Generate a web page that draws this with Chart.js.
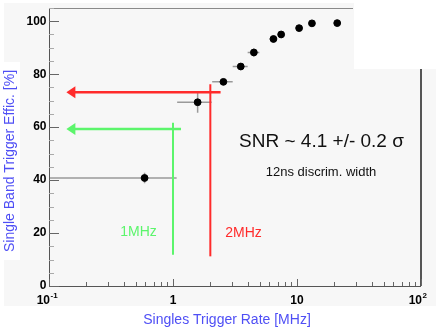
<!DOCTYPE html>
<html>
<head>
<meta charset="utf-8">
<script src="https://cdn.jsdelivr.net/npm/chart.js@4/dist/chart.umd.min.js"></script>
<style>
  body { margin: 0; background: #fff; }
  #wrap { width: 443px; height: 331px; }
</style>
</head>
<body>
<div id="wrap"><canvas id="effChart" width="443" height="331"></canvas></div>
<script>
// singles rate [MHz] and efficiency [%]
const rates = [0.59, 1.58, 2.55, 3.52, 4.49, 6.46, 7.45, 10.4, 13.2, 21.1];
const effic = [40.8, 69.4, 77.1, 82.9, 88.2, 93.3, 95.0, 97.4, 99.2, 99.3];
const rateLow = [0.1, 1.08, 2.07, 3.03, 4.0, 6.0, 7.0, 10.2, 13.0, 21.0];
const rateHigh = [1.07, 2.05, 3.03, 4.0, 4.97, 6.9, 7.95, 10.6, 13.4, 21.2];
const efficErr = [2, 4, 1, 1, 1.5, 1, 1, 0.5, 0.5, 0.3];

const yTicks = [0, 20, 40, 60, 80, 100];
const xDecades = [0.1, 1, 10, 100];

// annotation lines: [rate, efficiency] in data units
const redArrow = { from: 2.42, to: 0.138, y: 73.2 };
const redLine = { x: 2.0, y1: 11.2, y2: 76.2 };
const greenArrow = { from: 1.16, to: 0.138, y: 59.3 };
const greenLine = { x: 1.0, y1: 11.8, y2: 61.7 };

const RED = '#ff2b2b';
const GREEN = '#5cf56c';
const BLUE = '#4f4ff5';

const points = rates.map((r, i) => ({ x: r, y: effic[i] }));

function arrow(ctx, xs, ys, color, x1, x2, y) {
    const px1 = xs.getPixelForValue(x1);
    const px2 = xs.getPixelForValue(x2);
    const py = ys.getPixelForValue(y);
    ctx.strokeStyle = color;
    ctx.fillStyle = color;
    ctx.lineWidth = 2.5;
    ctx.beginPath();
    ctx.moveTo(px1, py);
    ctx.lineTo(px2 + 8, py);
    ctx.stroke();
    ctx.beginPath();
    ctx.moveTo(px2, py);
    ctx.lineTo(px2 + 9, py - 6);
    ctx.lineTo(px2 + 9, py + 6);
    ctx.closePath();
    ctx.fill();
}

function vline(ctx, xs, ys, color, l) {
    const px = xs.getPixelForValue(l.x);
    ctx.strokeStyle = color;
    ctx.lineWidth = 2;
    ctx.beginPath();
    ctx.moveTo(px, ys.getPixelForValue(l.y1));
    ctx.lineTo(px, ys.getPixelForValue(l.y2));
    ctx.stroke();
}

const framePlugin = {
    id: 'frame',
    beforeDraw(chart) {
        const ctx = chart.ctx;
        ctx.save();
        ctx.fillStyle = '#ffffff';
        ctx.fillRect(0, 0, 443, 331);
        ctx.fillStyle = '#f7f7f7';
        ctx.fillRect(4, 3, 432, 303);
        ctx.fillStyle = '#ffffff';
        ctx.fillRect(354, 0, 89, 69);
        ctx.fillRect(0, 62, 20, 198);
        ctx.restore();
    },
    beforeDatasetsDraw(chart) {
        const ctx = chart.ctx;
        const xs = chart.scales.x;
        const ys = chart.scales.y;
        const a = chart.chartArea;
        ctx.save();

        // error bars
        ctx.strokeStyle = '#9a9a9a';
        ctx.lineWidth = 1.5;
        rates.forEach((r, i) => {
            const px = xs.getPixelForValue(r);
            const py = ys.getPixelForValue(effic[i]);
            ctx.beginPath();
            ctx.moveTo(Math.max(a.left, xs.getPixelForValue(rateLow[i])), py);
            ctx.lineTo(xs.getPixelForValue(rateHigh[i]), py);
            ctx.moveTo(px, ys.getPixelForValue(effic[i] - efficErr[i]));
            ctx.lineTo(px, ys.getPixelForValue(effic[i] + efficErr[i]));
            ctx.stroke();
        });

        vline(ctx, xs, ys, GREEN, greenLine);
        vline(ctx, xs, ys, RED, redLine);
        arrow(ctx, xs, ys, GREEN, greenArrow.from, greenArrow.to, greenArrow.y);
        arrow(ctx, xs, ys, RED, redArrow.from, redArrow.to, redArrow.y);

        ctx.textAlign = 'center';
        ctx.textBaseline = 'middle';
        ctx.font = '14px "Liberation Sans", Arial, sans-serif';
        ctx.fillStyle = GREEN;
        ctx.fillText('1MHz', 138.5, 232);
        ctx.fillStyle = RED;
        ctx.fillText('2MHz', 243.5, 233);
        ctx.fillStyle = '#111';
        ctx.font = '19px "Liberation Sans", Arial, sans-serif';
        ctx.fillText('SNR ~ 4.1 +/- 0.2 \u03c3', 321.5, 142);
        ctx.font = '13px "Liberation Sans", Arial, sans-serif';
        ctx.fillText('12ns discrim. width', 321, 172);
        ctx.restore();
    },
    afterDraw(chart) {
        const ctx = chart.ctx;
        const xs = chart.scales.x;
        const ys = chart.scales.y;
        const a = chart.chartArea;
        ctx.save();

        // frame lines
        ctx.strokeStyle = '#8a8a8a';
        ctx.lineWidth = 1;
        ctx.beginPath();
        ctx.moveTo(a.left, a.top + 0.5);
        ctx.lineTo(353, a.top + 0.5);
        ctx.stroke();
        ctx.strokeStyle = '#555';
        ctx.lineWidth = 2;
        ctx.beginPath();
        ctx.moveTo(a.right, 69);
        ctx.lineTo(a.right, a.bottom);
        ctx.stroke();
        ctx.lineWidth = 1;
        ctx.beginPath();
        ctx.moveTo(a.left + 0.5, a.top);
        ctx.lineTo(a.left + 0.5, a.bottom + 0.5);
        ctx.lineTo(a.right, a.bottom + 0.5);
        ctx.stroke();

        // y ticks
        for (let v = 0; v <= 105; v += 5) {
            const py = Math.round(ys.getPixelForValue(v)) + 0.5;
            const major = v % 20 === 0;
            ctx.strokeStyle = major ? '#666' : '#aaa';
            ctx.beginPath();
            ctx.moveTo(a.left, py);
            ctx.lineTo(a.left + (major ? 10 : 5), py);
            ctx.stroke();
        }
        // x ticks
        ctx.strokeStyle = '#666';
        xDecades.slice(0, 3).forEach(d => {
            for (let k = 1; k <= 10; k++) {
                const px = Math.round(xs.getPixelForValue(d * k)) + 0.5;
                const len = (k === 1 || k === 10) ? 7 : 4;
                ctx.beginPath();
                ctx.moveTo(px, a.bottom);
                ctx.lineTo(px, a.bottom - len);
                ctx.stroke();
            }
        });

        // tick labels
        ctx.fillStyle = '#000';
        ctx.font = 'bold 12px "Liberation Sans", Arial, sans-serif';
        ctx.textAlign = 'right';
        ctx.textBaseline = 'middle';
        yTicks.forEach(v => ctx.fillText(String(v), 46.5, ys.getPixelForValue(v)));

        ctx.textBaseline = 'alphabetic';
        const ly = 304;
        ctx.textAlign = 'center';
        ctx.fillText('1', xs.getPixelForValue(1), ly);
        ctx.fillText('10', xs.getPixelForValue(10), ly);
        [[0.1, '-1'], [100, '2']].forEach(([d, e]) => {
            const px = xs.getPixelForValue(d);
            ctx.font = 'bold 12px "Liberation Sans", Arial, sans-serif';
            ctx.textAlign = 'right';
            ctx.fillText('10', px + 1, ly);
            ctx.font = 'bold 8px "Liberation Sans", Arial, sans-serif';
            ctx.textAlign = 'left';
            ctx.fillText(e, px + 1.5, ly - 6);
        });

        // axis titles
        ctx.fillStyle = BLUE;
        ctx.font = '14px "Liberation Sans", Arial, sans-serif';
        ctx.textAlign = 'center';
        ctx.textBaseline = 'middle';
        ctx.fillText('Singles Trigger Rate [MHz]', 227, 320);
        ctx.translate(10, 161);
        ctx.rotate(-Math.PI / 2);
        ctx.fillText('Single Band Trigger Effic. [%]', 0, 0);
        ctx.restore();
    }
};

new Chart(document.getElementById('effChart'), {
    type: 'scatter',
    data: {
        datasets: [{
            label: 'Efficiency',
            data: points,
            backgroundColor: '#000',
            borderColor: '#000',
            pointRadius: 3.4,
            pointHoverRadius: 3.4
        }]
    },
    options: {
        responsive: false,
        animation: false,
        layout: { padding: { left: 49, top: 8, right: 22, bottom: 45 } },
        plugins: {
            legend: { display: false },
            tooltip: { enabled: false }
        },
        scales: {
            x: { type: 'logarithmic', min: 0.1, max: 100, display: false },
            y: { min: 0, max: 105, display: false }
        }
    },
    plugins: [framePlugin]
});
</script>
</body>
</html>
